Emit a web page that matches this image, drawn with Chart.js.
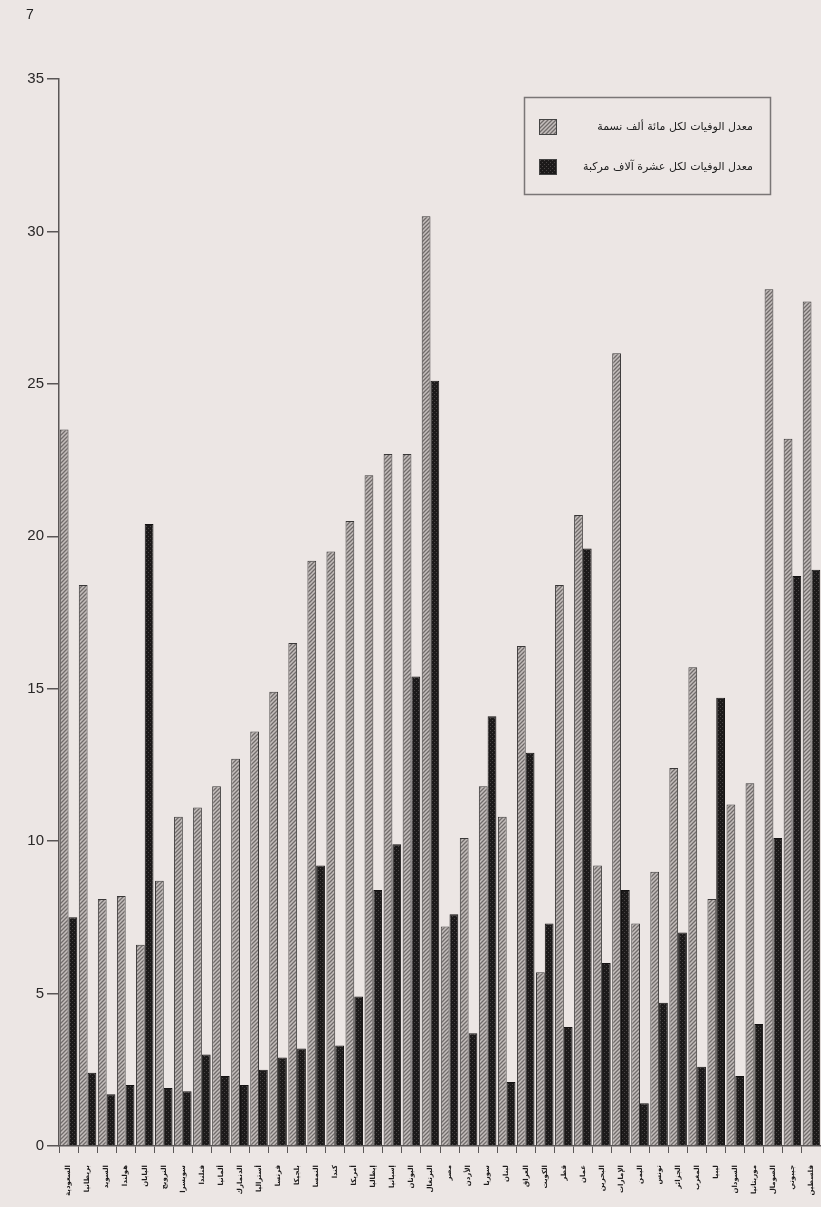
<!DOCTYPE html>
<html lang="ar">
<head>
<meta charset="utf-8">
<script src="https://cdn.jsdelivr.net/npm/chart.js@4.4.1/dist/chart.umd.min.js"></script>
<style>
  html, body { margin: 0; padding: 0; background: #ece6e4; }
  #wrap { position: relative; width: 821px; height: 1207px; overflow: hidden; }
  #page { position: absolute; left: 26px; top: 6px; font: 14px "Liberation Sans", sans-serif; color: #222; }
  canvas { position: absolute; left: 0; top: 0; }
</style>
</head>
<body>
<div id="wrap">
  <canvas id="deathsChart" width="821" height="1207"></canvas>
  <div id="page">7</div>
</div>
<script>
// categories (x labels, hard to read on the scan - best guess)
var countries = [
  "السعودية", "بريطانيا", "السويد", "هولندا", "اليابان", "النرويج", "سويسرا", "فنلندا",
  "ألمانيا", "الدنمارك", "أستراليا", "فرنسا", "بلجيكا", "النمسا", "كندا", "أمريكا",
  "إيطاليا", "إسبانيا", "اليونان", "البرتغال", "مصر", "الأردن", "سوريا", "لبنان",
  "العراق", "الكويت", "قطر", "عمان", "البحرين", "الإمارات", "اليمن", "تونس",
  "الجزائر", "المغرب", "ليبيا", "السودان", "موريتانيا", "الصومال", "جيبوتي", "فلسطين"
];

// deaths per 100,000 population
var perPopulation = [
  23.5, 18.4, 8.1, 8.2, 6.6, 8.7, 10.8, 11.1, 11.8, 12.7,
  13.6, 14.9, 16.5, 19.2, 19.5, 20.5, 22.0, 22.7, 22.7, 30.5,
  7.2, 10.1, 11.8, 10.8, 16.4, 5.7, 18.4, 20.7, 9.2, 26.0,
  7.3, 9.0, 12.4, 15.7, 8.1, 11.2, 11.9, 28.1, 23.2, 27.7
];

// deaths per 10,000 vehicles
var perVehicles = [
  7.5, 2.4, 1.7, 2.0, 20.4, 1.9, 1.8, 3.0, 2.3, 2.0,
  2.5, 2.9, 3.2, 9.2, 3.3, 4.9, 8.4, 9.9, 15.4, 25.1,
  7.6, 3.7, 14.1, 2.1, 12.9, 7.3, 3.9, 19.6, 6.0, 8.4,
  1.4, 4.7, 7.0, 2.6, 14.7, 2.3, 4.0, 10.1, 18.7, 18.9
];

var yTicks = [0, 5, 10, 15, 20, 25, 30, 35];

var seriesNames = [
  "معدل الوفيات لكل مائة ألف نسمة",
  "معدل الوفيات لكل عشرة آلاف مركبة"
];

function makePattern(base, ink, kind) {
  var c = document.createElement("canvas");
  c.width = 4; c.height = 4;
  var g = c.getContext("2d");
  g.fillStyle = base;
  g.fillRect(0, 0, 4, 4);
  g.strokeStyle = ink;
  g.fillStyle = ink;
  if (kind === "hatch") {
    g.lineWidth = 1.3;
    g.beginPath();
    g.moveTo(0, 4); g.lineTo(4, 0);
    g.moveTo(-2, 2); g.lineTo(2, -2);
    g.moveTo(2, 6); g.lineTo(6, 2);
    g.stroke();
  } else {
    g.fillStyle = "#4a4646";
    g.fillRect(0, 0, 1, 1);
    g.fillRect(2, 2, 1, 1);
  }
  return g.createPattern(c, "repeat");
}

var lightFill = makePattern("#c4bebc", "#716c6b", "hatch");
var darkFill = makePattern("#1c1a1a", "#4a4646", "dots");

var boxLegend = {
  id: "boxLegend",
  afterDraw: function(chart) {
    var ctx = chart.ctx;
    ctx.save();
    ctx.strokeStyle = "#7a7676";
    ctx.lineWidth = 1.5;
    ctx.strokeRect(524.5, 97.5, 246, 97);
    chart.data.datasets.forEach(function(ds, i) {
      var y = 119 + i * 40;
      ctx.fillStyle = ds.backgroundColor;
      ctx.fillRect(539, y, 18, 16);
      ctx.strokeStyle = "#444";
      ctx.lineWidth = 1;
      ctx.strokeRect(539.5, y + 0.5, 17, 15);
      ctx.fillStyle = "#222";
      ctx.font = "11px 'DejaVu Sans'";
      ctx.direction = "rtl";
      ctx.textAlign = "right";
      ctx.textBaseline = "middle";
      ctx.fillText(ds.label, 753, y + 8);
    });
    ctx.restore();
  }
};

var $chart = document.getElementById("deathsChart");
new Chart($chart, {
  type: "bar",
  data: {
    labels: countries,
    datasets: [
      {
        label: seriesNames[0],
        data: perPopulation,
        backgroundColor: lightFill,
        borderColor: "#3a3838",
        borderWidth: 1
      },
      {
        label: seriesNames[1],
        data: perVehicles,
        backgroundColor: darkFill,
        borderColor: "#141212",
        borderWidth: 1
      }
    ]
  },
  plugins: [boxLegend],
  options: {
    responsive: false,
    animation: false,
    devicePixelRatio: 1,
    layout: { padding: { top: 79, right: 0, left: 0, bottom: 0 } },
    datasets: {
      bar: { categoryPercentage: 0.92, barPercentage: 1.0 }
    },
    plugins: {
      legend: { display: false },
      tooltip: { enabled: false }
    },
    scales: {
      y: {
        min: 0,
        max: 35,
        afterFit: function(s) { s.width = 59; },
        afterBuildTicks: function(s) {
          s.ticks = yTicks.map(function(v) { return { value: v }; });
        },
        border: { display: true, color: "#5a5656", width: 1.5 },
        grid: { drawOnChartArea: false, drawTicks: true, tickLength: 12, color: "#5a5656", lineWidth: 1.5 },
        ticks: {
          color: "#2a2828",
          padding: 3,
          font: { family: "'Liberation Sans', sans-serif", size: 15 }
        }
      },
      x: {
        offset: true,
        afterFit: function(s) {
          s.height = 61;
          s.paddingLeft = 0;
          s.paddingRight = 0;
        },
        border: { display: true, color: "#5a5656", width: 1.5 },
        grid: { drawOnChartArea: false, drawTicks: true, tickLength: 7, color: "#5a5656", offset: true },
        ticks: {
          color: "#1e1c1c",
          autoSkip: false,
          maxRotation: 90,
          minRotation: 90,
          padding: 12,
          font: { family: "'DejaVu Sans'", size: 7, weight: "bold" }
        }
      }
    }
  }
});
</script>
</body>
</html>
